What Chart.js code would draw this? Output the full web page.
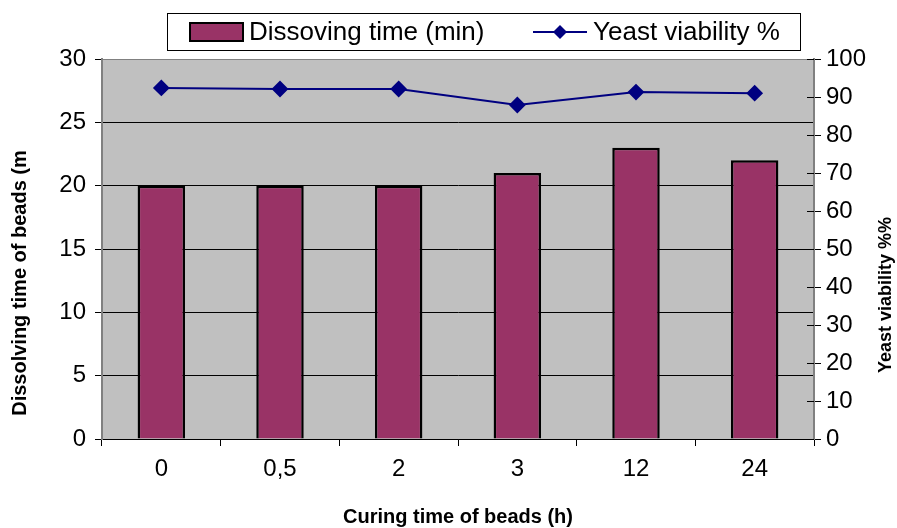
<!DOCTYPE html>
<html>
<head>
<meta charset="utf-8">
<script src="https://cdn.jsdelivr.net/npm/chart.js@4/dist/chart.umd.min.js"></script>
<style>
  html, body { margin: 0; padding: 0; background: #fff; }
  #wrap { width: 897px; height: 528px; position: relative; }
</style>
</head>
<body>
<div id="wrap"><canvas id="grafica" width="897" height="528"></canvas></div>
<script>
// Datos
const categorias = ['0', '0,5', '2', '3', '12', '24'];
const tiempoDisolucion = [20, 20, 20, 21, 23, 22];
const viabilidad = [92.4, 92.1, 92.1, 87.9, 91.3, 91.0];
const ticksIzq = [0, 5, 10, 15, 20, 25, 30];
const ticksDer = [0, 10, 20, 30, 40, 50, 60, 70, 80, 90, 100];

const FUENTE = "'Liberation Sans', Arial, sans-serif";
const GRANATE = '#993366';
const AZUL = '#000080';

// Texto girado (los títulos de eje se leen de abajo a arriba)
function textoVertical(ctx, texto, x, y, tam) {
    ctx.save();
    ctx.translate(x, y);
    ctx.rotate(-Math.PI / 2);
    ctx.font = 'bold ' + tam + 'px ' + FUENTE;
    ctx.fillStyle = '#000';
    ctx.textAlign = 'center';
    ctx.textBaseline = 'middle';
    ctx.fillText(texto, 0, 0);
    ctx.restore();
}

// Fondo gris del área, marcas del eje derecho, títulos y leyenda
const fondoPlugin = {
    id: 'fondo',
    beforeDraw(chart) {
        const { ctx, chartArea: a } = chart;
        ctx.save();
        ctx.fillStyle = '#c0c0c0';
        ctx.fillRect(a.left, a.top, a.right - a.left, a.bottom - a.top);
        ctx.strokeStyle = '#808080';
        ctx.lineWidth = 1;
        ctx.strokeRect(a.left + 0.5, a.top + 0.5, a.right - a.left - 1, a.bottom - a.top);
        ctx.restore();
    },
    afterDraw(chart) {
        const { ctx, chartArea: a } = chart;
        const y2 = chart.scales.y2;
        ctx.save();
        // marcas que cruzan el eje derecho
        ctx.strokeStyle = '#000';
        ctx.lineWidth = 1;
        ticksDer.forEach(v => {
            const y = Math.round(y2.getPixelForValue(v)) + 0.5;
            ctx.beginPath();
            ctx.moveTo(a.right - 7, y);
            ctx.lineTo(a.right, y);
            ctx.stroke();
        });
        ctx.restore();

        textoVertical(ctx, 'Dissolving time of beads (m', 20, 283, 20);
        textoVertical(ctx, 'Yeast viability %%', 886, 295, 18);

        // leyenda con recuadro
        const barras = chart.data.datasets.find(d => d.type !== 'line');
        const linea = chart.data.datasets.find(d => d.type === 'line');
        ctx.save();
        ctx.fillStyle = '#fff';
        ctx.fillRect(167, 13, 633, 37);
        ctx.strokeStyle = '#000';
        ctx.lineWidth = 1;
        ctx.strokeRect(167.5, 13.5, 633, 37);
        ctx.fillStyle = GRANATE;
        ctx.fillRect(190, 23, 53, 18);
        ctx.lineWidth = 2;
        ctx.strokeRect(190, 23, 53, 18);
        ctx.font = '26px ' + FUENTE;
        ctx.fillStyle = '#000';
        ctx.textBaseline = 'middle';
        ctx.fillText(barras.label, 249, 33);
        ctx.strokeStyle = AZUL;
        ctx.beginPath();
        ctx.moveTo(533, 32);
        ctx.lineTo(587, 32);
        ctx.stroke();
        ctx.fillStyle = AZUL;
        ctx.beginPath();
        ctx.moveTo(560, 25);
        ctx.lineTo(567, 32);
        ctx.lineTo(560, 39);
        ctx.lineTo(553, 32);
        ctx.closePath();
        ctx.fill();
        ctx.fillStyle = '#000';
        ctx.fillText(linea.label, 593, 33);
        ctx.restore();
    }
};

const ctx = document.getElementById('grafica').getContext('2d');
window.grafica = new Chart(ctx, {
    type: 'bar',
    data: {
        labels: categorias,
        datasets: [
            {
                type: 'line',
                label: 'Yeast viability %',
                data: viabilidad,
                yAxisID: 'y2',
                borderColor: AZUL,
                backgroundColor: AZUL,
                borderWidth: 2,
                pointStyle: 'rectRot',
                pointRadius: 7,
                pointHoverRadius: 7,
                tension: 0,
                order: 0
            },
            {
                type: 'bar',
                label: 'Dissoving time (min)',
                data: tiempoDisolucion,
                yAxisID: 'y',
                backgroundColor: GRANATE,
                borderColor: '#000',
                borderWidth: 2.5,
                borderSkipped: 'bottom',
                barPercentage: 0.4,
                categoryPercentage: 1,
                order: 1
            }
        ]
    },
    options: {
        responsive: false,
        animation: false,
        events: [],
        layout: { padding: { top: 59, left: 0, right: 0, bottom: 0 } },
        plugins: { legend: { display: false }, tooltip: { enabled: false } },
        scales: {
            x: {
                offset: true,
                afterFit(s) { s.height = 89; },
                grid: { drawOnChartArea: false, offset: true, tickLength: 7, tickColor: '#000' },
                border: { color: '#000', width: 1 },
                ticks: { color: '#000', padding: 9, font: { family: FUENTE, size: 24 } },
                title: {
                    display: true, text: 'Curing time of beads (h)', color: '#000',
                    font: { family: FUENTE, size: 20, weight: 'bold' },
                    padding: { top: 0, bottom: -1 }
                }
            },
            y: {
                position: 'left',
                min: 0, max: 30,
                afterFit(s) { s.width = 102; },
                afterBuildTicks(s) { s.ticks = ticksIzq.map(v => ({ value: v })); },
                grid: {
                    color: c => (c.tick && c.tick.value === 30) ? 'rgba(0,0,0,0)' : '#000',
                    tickColor: '#000', tickLength: 7, lineWidth: 1
                },
                border: { color: '#808080', width: 2 },
                ticks: { color: '#000', padding: 9, font: { family: FUENTE, size: 24 } }
            },
            y2: {
                position: 'right',
                min: 0, max: 100,
                afterFit(s) { s.width = 83; },
                afterBuildTicks(s) { s.ticks = ticksDer.map(v => ({ value: v })); },
                grid: { drawOnChartArea: false, tickColor: '#000', tickLength: 7 },
                border: { color: '#808080', width: 2 },
                ticks: { color: '#000', padding: 5, font: { family: FUENTE, size: 24 } }
            }
        }
    },
    plugins: [fondoPlugin]
});
</script>
</body>
</html>
